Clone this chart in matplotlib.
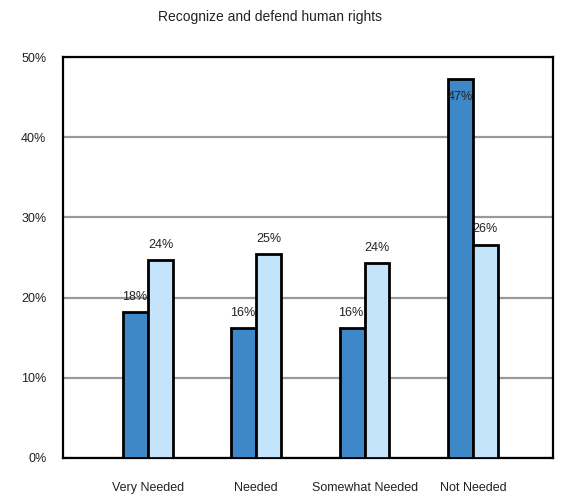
import matplotlib
matplotlib.use('Agg')
import matplotlib.pyplot as plt
import numpy as np

categories = ['Very Needed', 'Needed', 'Somewhat Needed', 'Not Needed']
series_a = [18.2, 16.2, 16.2, 47.3]
series_b = [24.7, 25.4, 24.3, 26.6]
labels_a = ['18%', '16%', '16%', '47%']
labels_b = ['24%', '25%', '24%', '26%']
yticks = [0, 10, 20, 30, 40, 50]
ytick_labels = ['0%', '10%', '20%', '30%', '40%', '50%']

plt.rcParams['font.family'] = ['Liberation Sans', 'DejaVu Sans']

fig = plt.figure(figsize=(5.61, 4.94), dpi=100)
ax = fig.add_axes([0.1123, 0.0729, 0.8734, 0.8117])

x = np.arange(len(categories))
w = 0.23
ax.set_axisbelow(True)
ax.yaxis.grid(True, color='#999999', linewidth=1.6)
ba = ax.bar(x - w/2, series_a, w, color='#3f88c8', edgecolor='black', linewidth=2.0, zorder=3)
bb = ax.bar(x + w/2, series_b, w, color='#c4e4fb', edgecolor='black', linewidth=2.0, zorder=3)

fs = 9
for i, (v, t) in enumerate(zip(series_a, labels_a)):
    if v > 45:
        ax.annotate(t, (x[i] - w/2, v), xytext=(0, -13), textcoords='offset points',
                    ha='center', va='center', fontsize=fs, color='#222222', zorder=4)
    else:
        ax.annotate(t, (x[i] - w/2, v), xytext=(-1, 11), textcoords='offset points',
                    ha='center', va='center', fontsize=fs, color='#222222', zorder=4)
for i, (v, t) in enumerate(zip(series_b, labels_b)):
    ax.annotate(t, (x[i] + w/2, v), xytext=(0, 11), textcoords='offset points',
                ha='center', va='center', fontsize=fs, color='#222222', zorder=4)

ax.set_xlim(-0.785, 3.74)
ax.set_ylim(0, 50)
ax.set_yticks(yticks)
ax.set_yticklabels(ytick_labels, fontsize=fs, color='#222222')
ax.set_xticks(x)
ax.set_xticklabels(categories, fontsize=fs, color='#222222')
ax.tick_params(axis='both', length=0)
ax.tick_params(axis='x', pad=17)
ax.tick_params(axis='y', pad=12)
for s in ax.spines.values():
    s.set_linewidth(1.6)
    s.set_color('black')

fig.text(0.481, 0.965, 'Recognize and defend human rights', ha='center', va='center',
         fontsize=10, color='#222222')

fig.savefig('out.png', dpi=100)
